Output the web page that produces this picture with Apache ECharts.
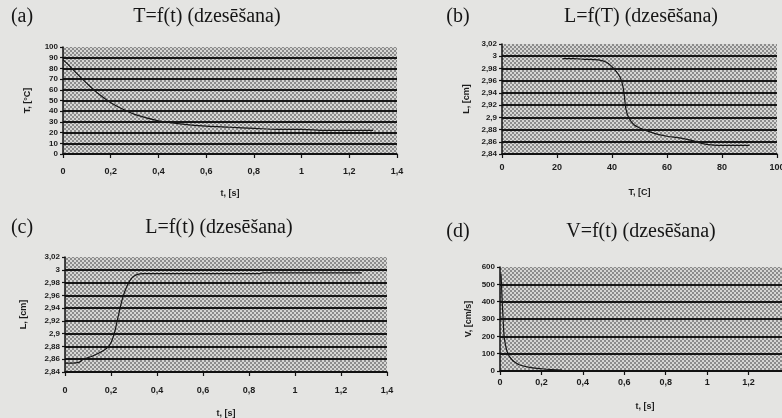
<!DOCTYPE html>
<html>
<head>
<meta charset="utf-8">
<script src="https://cdn.jsdelivr.net/npm/echarts@6/dist/echarts.min.js"></script>
<style>
  html, body { margin: 0; padding: 0; background: #e4e4e2; }
  #chart { width: 782px; height: 418px; }
</style>
</head>
<body>
<div id="chart"></div>
<script>
// (a) T=f(t)
const tA = [0, 0.02, 0.05, 0.1, 0.15, 0.2, 0.25, 0.3, 0.4, 0.5, 0.6, 0.7, 0.8, 0.9, 1.0, 1.1, 1.2, 1.3];
const tempA = [88, 84, 77, 66, 56, 48, 42, 37, 31, 28, 26, 25, 24, 23, 23, 22, 22, 22];
// (b) L=f(T)
const tempB = [22, 26, 30, 35, 38, 41, 43, 44, 44.5, 45, 46, 48, 52, 56, 60, 65, 70, 73, 76, 80, 90];
const lenB = [2.996, 2.996, 2.995, 2.994, 2.99, 2.978, 2.965, 2.95, 2.935, 2.915, 2.9, 2.888, 2.879, 2.873, 2.869, 2.866, 2.861, 2.857, 2.855, 2.854, 2.854];
// (c) L=f(t)
const tC = [0, 0.03, 0.06, 0.08, 0.12, 0.16, 0.19, 0.21, 0.23, 0.25, 0.27, 0.29, 0.31, 0.34, 0.4, 0.6, 0.85, 0.86, 1.0, 1.29];
const lenC = [2.854, 2.854, 2.855, 2.86, 2.865, 2.872, 2.88, 2.895, 2.925, 2.955, 2.975, 2.987, 2.992, 2.994, 2.994, 2.994, 2.994, 2.995, 2.995, 2.995];
// (d) V=f(t)
const tD = [0.005, 0.01, 0.015, 0.02, 0.03, 0.04, 0.06, 0.08, 0.1, 0.15, 0.2, 0.25, 0.3];
const vD = [560, 420, 300, 200, 130, 95, 62, 45, 33, 20, 13, 8, 5];

const panelLetters = ["(a)", "(b)", "(c)", "(d)"];
const panelTitles = ["T=f(t) (dzesēšana)", "L=f(T) (dzesēšana)", "L=f(t) (dzesēšana)", "V=f(t) (dzesēšana)"];
const xNames = ["t, [s]", "T, [C]", "t, [s]", "t, [s]"];
const yNames = ["T, [°C]", "L, [cm]", "L, [cm]", "V, [cm/s]"];

// dotted halftone fill of the plot areas
function dotPattern() {
  const c = document.createElement("canvas");
  c.width = 4;
  c.height = 4;
  const g = c.getContext("2d");
  g.fillStyle = "#d6d6d4";
  g.fillRect(0, 0, 4, 4);
  g.fillStyle = "#8c8c8c";
  g.fillRect(0, 0, 2, 2);
  g.fillRect(2, 2, 2, 2);
  return { image: c, repeat: "repeat" };
}
const pattern = dotPattern();

const comma = (v) => String(+v.toFixed(2)).replace(".", ",");
const tickFont = { fontFamily: "Liberation Sans", fontWeight: "bold", fontSize: 8, color: "#1c1c1c" };
const xFont = Object.assign({}, tickFont, { fontSize: 9 });

// plot rectangles [left, top, width, height]
const boxes = [
  [63, 47, 334, 107],
  [502, 44, 275, 110],
  [65, 257, 322, 115],
  [500, 267, 290, 104],
];
const yRanges = [
  [0, 100, 10],
  [2.84, 3.02, 0.02],
  [2.84, 3.02, 0.02],
  [0, 600, 100],
];
const xRanges = [
  [0, 1.4, 0.2],
  [0, 100, 20],
  [0, 1.4, 0.2],
  [0, 1.4, 0.2],
];
const yGaps = [31, 31, 37, 27];
const xLabelMargins = [13, 9, 14, 7];
const xGaps = [35, 34, 37, 31];

const chart = echarts.init(document.getElementById("chart"));

const grid = boxes.map((b) => ({
  left: b[0], top: b[1], width: b[2], height: b[3],
  outerBoundsMode: "none", containLabel: false,
  show: true, backgroundColor: pattern, borderWidth: 0,
}));

const xAxis = xRanges.map((r, i) => ({
  gridIndex: i, type: "value", min: r[0], max: r[1], interval: r[2],
  name: xNames[i], nameLocation: "middle", nameGap: xGaps[i],
  nameTextStyle: xFont,
  axisLine: { lineStyle: { color: "#111", width: 1.5 } },
  axisTick: { show: true, length: 4, lineStyle: { color: "#111", width: 1.2 } },
  axisLabel: Object.assign({ margin: xLabelMargins[i], formatter: comma }, xFont),
  splitLine: { show: false },
}));

const yAxis = yRanges.map((r, i) => ({
  gridIndex: i, type: "value", min: r[0], max: r[1], interval: r[2],
  name: yNames[i], nameLocation: "middle", nameGap: yGaps[i], nameRotate: 90,
  nameTextStyle: xFont,
  axisLine: { show: true, lineStyle: { color: "#111", width: 1.5 } },
  axisTick: { show: true, length: 3, lineStyle: { color: "#111", width: 1.2 } },
  axisLabel: Object.assign({ margin: 5, formatter: comma }, tickFont),
  splitLine: { show: true, showMaxLine: false, lineStyle: { color: "#151515", width: 1.8 } },
}));

const pairs = (xs, ys) => xs.map((x, k) => [x, ys[k]]);
const seriesData = [pairs(tA, tempA), pairs(tempB, lenB), pairs(tC, lenC), pairs(tD, vD)];

const series = seriesData.map((d, i) => ({
  type: "line", xAxisIndex: i, yAxisIndex: i, data: d,
  smooth: 0.35, symbol: "none",
  lineStyle: { color: "#151515", width: 1.2 },
  animation: false,
}));

const titleX = [[22, 207], [458, 641], [22, 219], [458, 641]];
const titleY = [17, 17, 228, 232];
const graphic = [];
panelTitles.forEach((t, i) => {
  graphic.push({
    type: "text", x: titleX[i][0], y: titleY[i],
    style: { text: panelLetters[i], font: "20px 'Liberation Serif'", fill: "#151515", textAlign: "center", textVerticalAlign: "middle" },
  });
  graphic.push({
    type: "text", x: titleX[i][1], y: titleY[i],
    style: { text: t, font: "20px 'Liberation Serif'", fill: "#151515", textAlign: "center", textVerticalAlign: "middle" },
  });
});

chart.setOption({
  backgroundColor: "#e4e4e2",
  animation: false,
  grid: grid,
  xAxis: xAxis,
  yAxis: yAxis,
  series: series,
  graphic: graphic,
});
</script>
</body>
</html>
